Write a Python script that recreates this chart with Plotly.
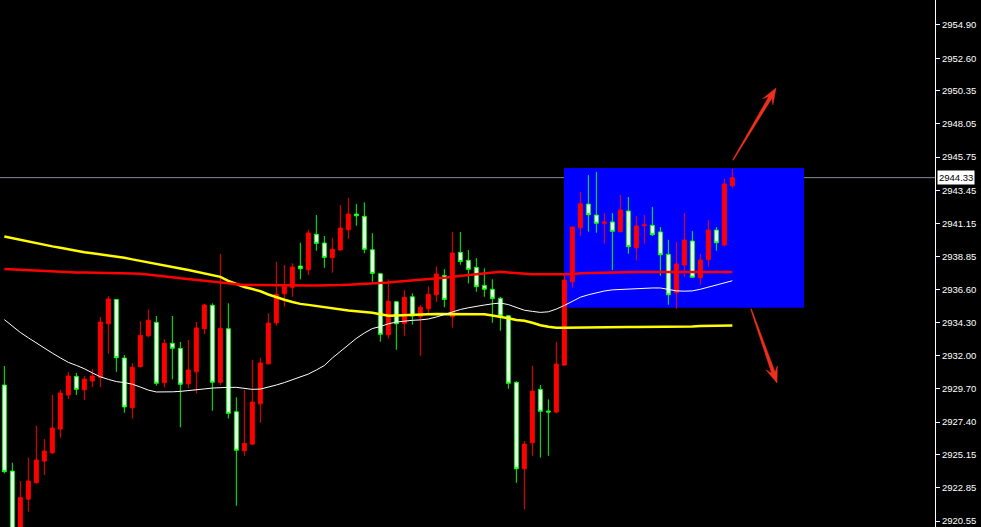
import plotly.graph_objects as go

# ---------------- data ----------------
opens = [2929.97, 2924.01, 2919.80, 2922.07, 2923.20, 2924.71, 2925.28, 2926.92, 2929.28, 2930.57,
         2929.64, 2930.25, 2930.50, 2934.21, 2935.90, 2931.84, 2928.40, 2931.24, 2933.38, 2934.31,
         2930.13, 2932.86, 2932.51, 2930.06, 2930.89, 2933.87, 2935.49, 2930.16, 2933.87, 2928.12,
         2925.42, 2925.88, 2928.67, 2931.44, 2934.28, 2936.29, 2936.74, 2938.21, 2937.95, 2940.41,
         2939.80, 2938.79, 2939.32, 2940.72, 2941.81, 2941.65, 2939.34, 2937.68, 2933.45, 2935.74,
         2934.24, 2936.08, 2934.70, 2935.25, 2936.22, 2937.55, 2934.70, 2939.16, 2938.61, 2938.12,
         2936.87, 2936.60, 2935.97, 2934.77, 2930.16, 2924.17, 2925.97, 2929.67, 2928.17, 2928.10,
         2931.35, 2937.12, 2940.86, 2942.50, 2941.74, 2941.17, 2941.26, 2940.59, 2942.02, 2939.48,
         2941.00, 2941.03, 2940.57, 2939.02, 2936.36, 2938.28, 2939.94, 2937.40, 2938.65, 2940.70,
         2939.66, 2943.77]
highs = [2931.29, 2924.59, 2923.32, 2924.94, 2927.15, 2926.23, 2929.28, 2929.62, 2930.87, 2930.80,
         2930.59, 2931.08, 2934.68, 2936.13, 2935.92, 2932.05, 2931.47, 2934.38, 2935.21, 2934.75,
         2933.13, 2934.75, 2932.95, 2933.09, 2934.33, 2935.58, 2935.63, 2939.04, 2935.63, 2929.12,
         2929.62, 2931.70, 2931.84, 2934.93, 2938.49, 2938.28, 2938.40, 2939.82, 2940.70, 2941.74,
         2940.29, 2940.15, 2942.43, 2942.92, 2942.50, 2942.62, 2940.48, 2937.70, 2937.29, 2935.76,
         2936.55, 2936.32, 2935.51, 2936.80, 2938.19, 2938.00, 2940.57, 2940.57, 2939.32, 2938.76,
         2938.05, 2937.29, 2936.08, 2934.78, 2930.23, 2926.09, 2931.29, 2929.97, 2928.98, 2932.95,
         2937.59, 2940.93, 2943.34, 2944.51, 2944.72, 2941.86, 2941.88, 2943.13, 2942.99, 2941.67,
         2941.74, 2942.30, 2940.91, 2940.03, 2939.87, 2941.88, 2940.63, 2939.04, 2941.40, 2940.91,
         2944.26, 2944.93]
lows = [2923.85, 2919.40, 2919.60, 2921.20, 2923.16, 2923.74, 2925.20, 2926.32, 2929.00, 2929.28,
        2928.93, 2929.83, 2929.83, 2932.14, 2930.89, 2928.05, 2927.64, 2931.20, 2933.27, 2929.92,
        2929.81, 2930.36, 2927.04, 2929.74, 2929.39, 2933.48, 2928.19, 2929.97, 2927.66, 2921.61,
        2925.07, 2925.81, 2927.36, 2931.40, 2934.08, 2935.39, 2936.08, 2937.29, 2937.59, 2939.27,
        2938.09, 2937.75, 2939.30, 2940.10, 2941.00, 2939.09, 2937.12, 2932.97, 2933.18, 2932.41,
        2933.38, 2934.15, 2932.00, 2934.93, 2935.72, 2935.35, 2933.95, 2938.30, 2937.01, 2936.43,
        2936.08, 2934.28, 2933.73, 2929.71, 2923.20, 2921.36, 2925.07, 2924.94, 2925.07, 2928.01,
        2931.30, 2936.71, 2940.29, 2940.59, 2940.52, 2939.75, 2937.93, 2940.57, 2939.06, 2938.58,
        2939.75, 2940.29, 2937.54, 2935.53, 2935.25, 2937.45, 2937.41, 2936.89, 2938.16, 2939.27,
        2939.59, 2943.61]
closes = [2923.97, 2919.60, 2922.17, 2923.32, 2924.78, 2925.40, 2926.99, 2929.42, 2930.59, 2929.67,
          2930.38, 2930.59, 2934.33, 2935.93, 2931.86, 2928.45, 2931.20, 2933.41, 2934.45, 2930.09,
          2932.86, 2932.51, 2930.02, 2931.01, 2933.92, 2935.51, 2930.16, 2933.90, 2928.01, 2925.45,
          2925.93, 2928.79, 2931.49, 2934.26, 2936.25, 2936.78, 2938.14, 2938.02, 2940.50, 2939.78,
          2938.81, 2939.37, 2940.84, 2941.81, 2941.69, 2939.37, 2937.70, 2933.48, 2935.77, 2934.21,
          2936.04, 2934.75, 2935.35, 2936.25, 2937.66, 2935.90, 2939.11, 2938.52, 2937.98, 2936.78,
          2936.60, 2935.95, 2934.75, 2930.09, 2924.17, 2925.88, 2929.55, 2928.15, 2928.10, 2931.42,
          2937.24, 2940.91, 2942.52, 2941.76, 2941.17, 2941.26, 2940.61, 2942.09, 2939.55, 2940.98,
          2941.05, 2940.38, 2938.99, 2936.22, 2938.35, 2940.01, 2937.43, 2938.63, 2940.70, 2939.82,
          2943.89, 2944.33]

ma_white = [2934.50, 2934.03, 2933.61, 2933.24, 2932.87, 2932.52, 2932.18, 2931.85, 2931.54, 2931.33,
            2931.10, 2930.81, 2930.54, 2930.36, 2930.21, 2930.14, 2930.03, 2929.83, 2929.62, 2929.49,
            2929.47, 2929.50, 2929.53, 2929.57, 2929.64, 2929.70, 2929.76, 2929.81, 2929.81, 2929.81,
            2929.73, 2929.67, 2929.69, 2929.82, 2929.97, 2930.14, 2930.32, 2930.52, 2930.73, 2931.01,
            2931.32, 2931.84, 2932.29, 2932.77, 2933.20, 2933.57, 2933.88, 2934.02, 2934.21, 2934.33,
            2934.40, 2934.45, 2934.48, 2934.54, 2934.68, 2934.85, 2935.07, 2935.20, 2935.32, 2935.43,
            2935.51, 2935.59, 2935.65, 2935.54, 2935.35, 2935.15, 2935.07, 2935.00, 2935.04, 2935.23,
            2935.48, 2935.77, 2936.05, 2936.22, 2936.36, 2936.48, 2936.56, 2936.59, 2936.63, 2936.66,
            2936.69, 2936.69, 2936.69, 2936.57, 2936.49, 2936.47, 2936.49, 2936.60, 2936.75, 2936.88,
            2937.03, 2937.19]
ma_red = [2938.00, 2937.97, 2937.93, 2937.91, 2937.88, 2937.86, 2937.84, 2937.82, 2937.80, 2937.77,
          2937.76, 2937.74, 2937.73, 2937.72, 2937.72, 2937.71, 2937.69, 2937.68, 2937.63, 2937.59,
          2937.52, 2937.44, 2937.36, 2937.31, 2937.26, 2937.19, 2937.11, 2937.06, 2937.01, 2936.95,
          2936.89, 2936.89, 2936.88, 2936.87, 2936.87, 2936.86, 2936.86, 2936.86, 2936.86, 2936.86,
          2936.86, 2936.86, 2936.89, 2936.92, 2936.94, 2936.96, 2936.99, 2937.01, 2937.07, 2937.12,
          2937.16, 2937.19, 2937.23, 2937.28, 2937.35, 2937.39, 2937.46, 2937.52, 2937.59, 2937.67,
          2937.73, 2937.77, 2937.81, 2937.77, 2937.71, 2937.67, 2937.64, 2937.64, 2937.64, 2937.64,
          2937.64, 2937.64, 2937.71, 2937.73, 2937.75, 2937.75, 2937.77, 2937.80, 2937.80, 2937.80,
          2937.80, 2937.80, 2937.80, 2937.80, 2937.80, 2937.80, 2937.80, 2937.80, 2937.80, 2937.80,
          2937.80, 2937.80]
ma_yellow = [2940.25, 2940.13, 2940.00, 2939.89, 2939.77, 2939.66, 2939.57, 2939.47, 2939.36, 2939.25,
             2939.16, 2939.09, 2939.02, 2938.94, 2938.87, 2938.78, 2938.67, 2938.57, 2938.48, 2938.39,
             2938.29, 2938.17, 2938.04, 2937.93, 2937.80, 2937.68, 2937.54, 2937.46, 2937.18, 2936.96,
             2936.76, 2936.62, 2936.46, 2936.24, 2936.04, 2935.88, 2935.72, 2935.59, 2935.52, 2935.44,
             2935.35, 2935.26, 2935.19, 2935.13, 2935.08, 2935.03, 2934.97, 2934.87, 2934.77, 2934.78,
             2934.79, 2934.80, 2934.82, 2934.87, 2934.89, 2934.89, 2934.89, 2934.90, 2934.91, 2934.90,
             2934.87, 2934.78, 2934.71, 2934.60, 2934.47, 2934.42, 2934.28, 2934.11, 2934.01, 2933.94,
             2933.93, 2933.93, 2933.94, 2933.95, 2933.95, 2933.96, 2933.97, 2933.97, 2933.98, 2933.99,
             2933.99, 2934.00, 2934.01, 2934.01, 2934.02, 2934.03, 2934.03, 2934.05, 2934.05, 2934.07,
             2934.08, 2934.09]

tick_vals = [2954.90, 2952.60, 2950.35, 2948.05, 2945.75, 2943.45, 2941.15, 2938.85,
             2936.60, 2934.30, 2932.00, 2929.70, 2927.40, 2925.15, 2922.85, 2920.55]
tick_text = ["%.2f" % v for v in tick_vals]

last_price = 2944.33
zone_bars = [69.95, 99.95]        # consolidation box, in bar index
zone_prices = [2935.32, 2945.00]  # consolidation box, price span

bars = list(range(len(closes)))

# ---------------- figure ----------------
W, H = 981, 527
ML, MR, MT, MB = 0, 46, 0, 0
PW, PH = W - ML - MR, H - MT - MB
FONT = "Liberation Sans, Arial, sans-serif"

fig = go.Figure()

fig.add_trace(go.Candlestick(
    x=bars, open=opens, high=highs, low=lows, close=closes,
    increasing=dict(line=dict(color="#ff0000", width=1), fillcolor="#ff0000"),
    decreasing=dict(line=dict(color="#00ff00", width=1), fillcolor="#ffffff"),
    whiskerwidth=0, showlegend=False, hoverinfo="skip",
))

fig.add_trace(go.Scatter(x=bars, y=ma_yellow, mode="lines",
                         line=dict(color="#ffff00", width=2.5), showlegend=False, hoverinfo="skip"))
fig.add_trace(go.Scatter(x=bars, y=ma_red, mode="lines",
                         line=dict(color="#ff0000", width=2.5), showlegend=False, hoverinfo="skip"))
fig.add_trace(go.Scatter(x=bars, y=ma_white, mode="lines",
                         line=dict(color="#ffffff", width=1), showlegend=False, hoverinfo="skip"))

shapes = [
    dict(type="rect", xref="x", yref="y", x0=zone_bars[0], x1=zone_bars[1],
         y0=zone_prices[0], y1=zone_prices[1], fillcolor="#0000ff", line=dict(width=0), layer="below"),
    dict(type="line", xref="paper", yref="y", x0=0, x1=1, y0=last_price, y1=last_price,
         line=dict(color="#7f8c99", width=1), layer="below"),
]


def arrow_path(tail, tip):
    # tapered arrow drawn in pixel space and converted to paper coordinates
    import math
    dx, dy = tip[0] - tail[0], tip[1] - tail[1]
    L = math.hypot(dx, dy)
    ux, uy = dx / L, dy / L
    nx, ny = -uy, ux

    def P(along, off):
        px = tip[0] - ux * along + nx * off
        py = tip[1] - uy * along + ny * off
        return (px - ML) / PW, 1 - (py - MT) / PH

    pts = [P(L, 0.4), P(11, 1.8), P(16, 6.0), P(0, 0), P(16, -6.0), P(11, -1.8), P(L, -0.4)]
    return "M " + " L ".join("%.5f,%.5f" % p for p in pts) + " Z"


for tail, tip in [((733, 160), (776, 88)), ((751, 309), (777, 383))]:
    shapes.append(dict(type="path", xref="paper", yref="paper", path=arrow_path(tail, tip),
                       fillcolor="#f0301e", line=dict(color="#f0301e", width=0.5), layer="above"))

y_top = 2956.63
y_bot = 2920.14

fig.update_layout(
    width=W, height=H, autosize=False,
    margin=dict(l=ML, r=MR, t=MT, b=MB, pad=0, autoexpand=False),
    paper_bgcolor="#000000", plot_bgcolor="#000000",
    showlegend=False,
    shapes=shapes,
    xaxis=dict(range=[-0.541, 116.33], visible=False, rangeslider=dict(visible=False),
               showgrid=False, zeroline=False, automargin=False),
    yaxis=dict(range=[y_bot, y_top], side="right", showgrid=False, zeroline=False, automargin=False,
               showline=True, linecolor="#ffffff", linewidth=1,
               ticks="outside", ticklen=4, tickcolor="#ffffff", tickwidth=1,
               tickvals=tick_vals, ticktext=tick_text,
               tickfont=dict(family=FONT, size=9.5, color="#ffffff")),
    annotations=[dict(x=1, xref="paper", y=last_price, yref="y", text="%.2f" % last_price,
                      showarrow=False, xanchor="left", yanchor="middle", xshift=2,
                      bgcolor="#ffffff", borderpad=1,
                      font=dict(family=FONT, size=9.5, color="#000000"))],
)

fig.write_html("out.html", config={"displayModeBar": False},
               post_script="document.body.style.margin='0';document.body.style.background='#000';")
